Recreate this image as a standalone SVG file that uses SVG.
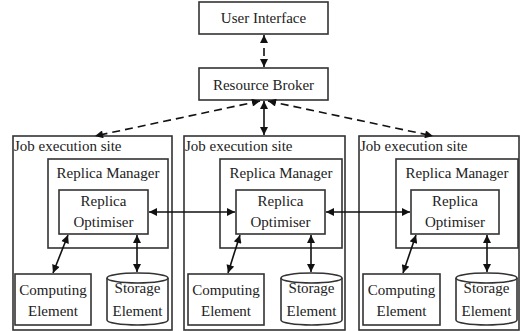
<svg xmlns="http://www.w3.org/2000/svg" width="523" height="331" viewBox="0 0 523 331">
<defs>
<marker id="ah" viewBox="0 0 10 10" refX="10" refY="5" markerWidth="9" markerHeight="8" markerUnits="userSpaceOnUse" orient="auto-start-reverse">
<path d="M0,0 L10,5 L0,10 z" fill="#111"/>
</marker>
<style>
.b{fill:#fff;stroke:#333;stroke-width:1.6}
.t{font-family:"Liberation Serif","Times New Roman",serif;font-size:15px;fill:#222}
.m{text-anchor:middle}
.c{stroke:#111;stroke-width:1.6;fill:none;marker-start:url(#ah);marker-end:url(#ah)}
.d{stroke-dasharray:8 5}
</style>
</defs>
<rect width="523" height="331" fill="#fff"/>
<g id="user-interface"><rect class="b" x="199" y="2" width="129" height="32"/><text class="t m" x="263.5" y="23">User Interface</text></g>
<g id="resource-broker"><rect class="b" x="199" y="68" width="129" height="32"/><text class="t m" x="263.5" y="90">Resource Broker</text></g>

<g id="site1">
<rect class="b" x="13" y="136" width="159" height="194"/><text class="t" x="14" y="151">Job execution site</text>
<g id="rm1"><rect class="b" x="48" y="159" width="120" height="89"/><text class="t m" x="108" y="178">Replica Manager</text></g>
<g id="ro1"><rect class="b" x="59" y="190" width="89" height="44"/><text class="t m" x="103.5" y="206">Replica</text><text class="t m" x="103.5" y="227">Optimiser</text></g>
<g id="ce1"><rect class="b" x="15" y="274" width="76" height="51"/><text class="t m" x="53" y="295">Computing</text><text class="t m" x="53" y="316">Element</text></g>
<g id="se1"><path class="b" d="M107,278 A30.5,5 0 0 1 168,278 L168,320 A30.5,5 0 0 1 107,320 Z"/><path class="b" d="M107,278 A30.5,5 0 0 0 168,278" fill="none"/><text class="t m" x="137.5" y="293">Storage</text><text class="t m" x="137.5" y="316">Element</text></g>
</g>

<g id="site2">
<rect class="b" x="184" y="136" width="161" height="194"/><text class="t" x="185" y="151">Job execution site</text>
<g id="rm2"><rect class="b" x="220" y="159" width="122" height="89"/><text class="t m" x="281" y="178">Replica Manager</text></g>
<g id="ro2"><rect class="b" x="236" y="190" width="89" height="44"/><text class="t m" x="280.5" y="206">Replica</text><text class="t m" x="280.5" y="227">Optimiser</text></g>
<g id="ce2"><rect class="b" x="188" y="274" width="76" height="51"/><text class="t m" x="226" y="295">Computing</text><text class="t m" x="226" y="316">Element</text></g>
<g id="se2"><path class="b" d="M281,278 A30.5,5 0 0 1 342,278 L342,320 A30.5,5 0 0 1 281,320 Z"/><path class="b" d="M281,278 A30.5,5 0 0 0 342,278" fill="none"/><text class="t m" x="311.5" y="293">Storage</text><text class="t m" x="311.5" y="316">Element</text></g>
</g>

<g id="site3">
<rect class="b" x="359" y="136" width="160" height="194"/><text class="t" x="360" y="151">Job execution site</text>
<g id="rm3"><rect class="b" x="396" y="159" width="122" height="89"/><text class="t m" x="457" y="178">Replica Manager</text></g>
<g id="ro3"><rect class="b" x="411" y="190" width="88" height="44"/><text class="t m" x="455" y="206">Replica</text><text class="t m" x="455" y="227">Optimiser</text></g>
<g id="ce3"><rect class="b" x="363" y="274" width="77" height="51"/><text class="t m" x="401.5" y="295">Computing</text><text class="t m" x="401.5" y="316">Element</text></g>
<g id="se3"><path class="b" d="M456,278 A30.5,5 0 0 1 517,278 L517,320 A30.5,5 0 0 1 456,320 Z"/><path class="b" d="M456,278 A30.5,5 0 0 0 517,278" fill="none"/><text class="t m" x="486.5" y="293">Storage</text><text class="t m" x="486.5" y="316">Element</text></g>
</g>

<g id="connectors">
<line class="c d" x1="264" y1="35" x2="264" y2="67"/>
<line class="c" x1="264" y1="101" x2="264" y2="135"/>
<line class="c d" x1="260" y1="101" x2="95" y2="136"/>
<line class="c d" x1="268" y1="101" x2="433" y2="136"/>
<line class="c" x1="149" y1="212" x2="235" y2="212"/>
<line class="c" x1="326" y1="212" x2="410" y2="212"/>
<line class="c" x1="68" y1="235" x2="53" y2="273"/>
<line class="c" x1="137" y1="235" x2="137" y2="272"/>
<line class="c" x1="240" y1="235" x2="228" y2="273"/>
<line class="c" x1="311" y1="235" x2="311" y2="272"/>
<line class="c" x1="416" y1="235" x2="403" y2="273"/>
<line class="c" x1="487" y1="235" x2="487" y2="272"/>
</g>
</svg>
